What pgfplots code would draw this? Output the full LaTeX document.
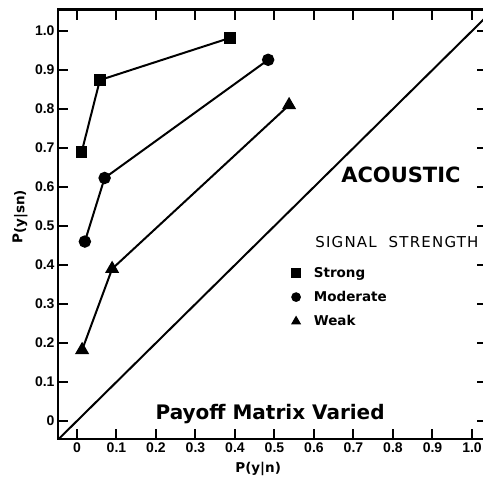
\documentclass[border=0pt]{standalone}
\usepackage{fontspec}
\setmainfont{DejaVu Sans}
\newfontfamily\tickfont{Liberation Sans}
\usepackage{pgfplots}
\pgfplotsset{compat=1.18}
\usetikzlibrary{calc}
\begin{document}
\begin{tikzpicture}
\begin{axis}[
  scale only axis, width=428.6pt, height=429.4pt,
  xmin=-0.048, xmax=1.037, ymin=-0.046, ymax=1.055,
  xtick={0,0.1,0.2,0.3,0.4,0.5,0.6,0.7,0.8,0.9,1.0},
  xticklabels={0,0.1,0.2,0.3,0.4,0.5,0.6,0.7,0.8,0.9,1.0},
  ytick={0,0.1,0.2,0.3,0.4,0.5,0.6,0.7,0.8,0.9,1.0},
  yticklabels={0,0.1,0.2,0.3,0.4,0.5,0.6,0.7,0.8,0.9,1.0},
  tick align=inside, major tick length=10pt,
  tick style={line width=2pt, black},
  axis line style={line width=2.2pt},
  tick label style={font=\tickfont\fontsize{14}{16}\selectfont\bfseries},
  xlabel={P(y|n)},
  ylabel={P\raisebox{-2pt}{(y|sn)}},
  x label style={at={(axis description cs:0.467,-0.0699)}, anchor=center, font=\fontsize{13.5}{16}\selectfont\bfseries},
  y label style={at={(axis description cs:-0.0886,0.517)}, anchor=center, rotate=0, font=\fontsize{13.5}{16}\selectfont\bfseries},
  legend style={draw=none, fill=none, at={(axis cs:0.537,0.405)}, anchor=north west,
     font=\fontsize{13.5}{16}\selectfont\bfseries, row sep=8.5pt,
     /tikz/every odd column/.append style={column sep=12pt}},
  legend cell align=left,
  legend image code/.code={\draw[#1, mark size=3.8pt] plot[only marks] coordinates {(0pt,0pt)};},
  every axis plot/.append style={line width=2pt, black},
]
\addplot[mark=square*, mark size=4.7pt] coordinates {(0.012,0.69) (0.058,0.874) (0.387,0.982)};
\addlegendentry{Strong}
\addplot[mark=*, mark size=5.2pt] coordinates {(0.02,0.46) (0.07,0.623) (0.484,0.926)};
\addlegendentry{Moderate}
\addplot[mark=triangle*, mark size=6.2pt] coordinates {(0.013,0.182) (0.089,0.39) (0.537,0.81)};
\addlegendentry{Weak}
\addplot[no marks, forget plot] coordinates {(-0.05,-0.05) (1.06,1.06)};
\node[font=\fontsize{21}{26}\selectfont\bfseries] at (axis cs:0.82,0.632) {ACOUSTIC};
\node[font=\fontsize{15}{18}\selectfont\addfontfeature{LetterSpace=8}] at (axis cs:0.81,0.459) {SIGNAL\ \ STRENGTH};
\node[font=\fontsize{20}{26}\selectfont\bfseries] at (axis cs:0.489,0.018) {Payoff\ Matrix\ Varied};
\end{axis}
\pgfresetboundingbox
\path[use as bounding box] ($(current axis.south west)+(-58pt,-41pt)$) rectangle ($(current axis.north west)+(425pt,9.5pt)$);
\end{tikzpicture}
\end{document}
